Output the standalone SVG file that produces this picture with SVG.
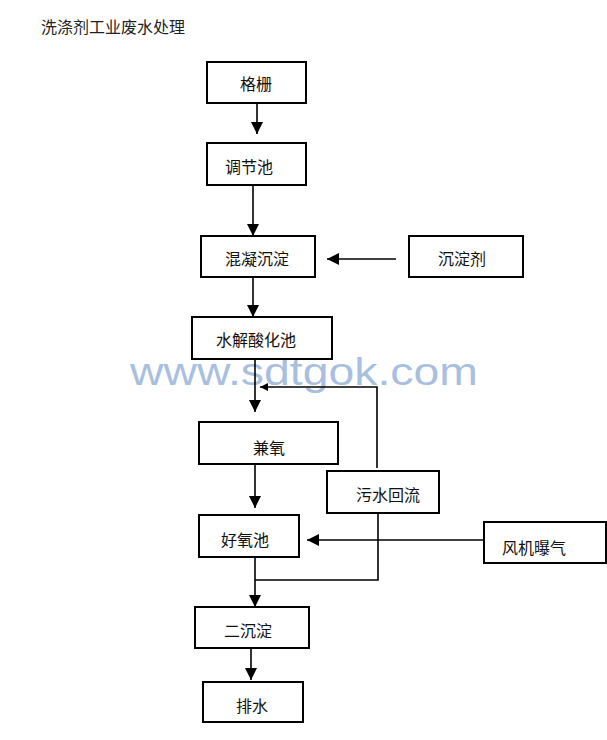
<svg xmlns="http://www.w3.org/2000/svg" width="607" height="740" viewBox="0 0 607 740">
<style>
.box{fill:#fff;stroke:#000;stroke-width:2}
.lbl{font-family:"Noto Sans CJK SC","Noto Sans",sans-serif;font-size:16px;fill:#111;text-anchor:middle;dominant-baseline:central}
.ln{fill:none;stroke:#000;stroke-width:1.6}
</style>
<defs>
<marker id="ah" viewBox="0 0 10 10" refX="10" refY="5" markerWidth="12" markerHeight="12" markerUnits="userSpaceOnUse" orient="auto">
<path d="M0,0 L10,5 L0,10 Z" fill="#000"/>
</marker>
<marker id="ahs" viewBox="0 0 10 10" refX="10" refY="5" markerWidth="8" markerHeight="8" markerUnits="userSpaceOnUse" orient="auto">
<path d="M0,0 L10,5 L0,10 Z" fill="#000"/>
</marker>
</defs>
<rect width="607" height="740" fill="#fff"/>
<text x="41" y="33" style="font-family:'Noto Sans CJK SC',sans-serif;font-size:16px;fill:#222">洗涤剂工业废水处理</text>
<text x="130" y="385" textLength="348" lengthAdjust="spacingAndGlyphs" style="font-family:'Liberation Sans',Arial,sans-serif;font-size:38px;fill:#a9bfdf">www.sdtgok.com</text>
<g id="connectors">
<line class="ln" x1="257" y1="103" x2="257" y2="134" marker-end="url(#ah)"/>
<line class="ln" x1="253" y1="185" x2="253" y2="236" marker-end="url(#ah)"/>
<line class="ln" x1="396" y1="259" x2="327" y2="259" marker-end="url(#ah)"/>
<line class="ln" x1="253" y1="277" x2="253" y2="317" marker-end="url(#ah)"/>
<line class="ln" x1="255" y1="359" x2="255" y2="412" marker-end="url(#ah)"/>
<polyline class="ln" points="377,468 377,387 260,387" marker-end="url(#ahs)"/>
<line class="ln" x1="255" y1="464" x2="255" y2="508" marker-end="url(#ah)"/>
<line class="ln" x1="484" y1="540" x2="307" y2="540" marker-end="url(#ah)"/>
<polyline class="ln" points="378,513 378,580 255,580"/>
<line class="ln" x1="255" y1="557" x2="255" y2="607" marker-end="url(#ah)"/>
<line class="ln" x1="251" y1="648" x2="251" y2="680" marker-end="url(#ah)"/>
</g>
<g id="n1"><rect class="box" x="207" y="62" width="99" height="41"/><text class="lbl" x="256" y="83">格栅</text></g>
<g id="n2"><rect class="box" x="207" y="143" width="99" height="42"/><text class="lbl" x="249" y="166">调节池</text></g>
<g id="n3"><rect class="box" x="201" y="236" width="114" height="41"/><text class="lbl" x="257" y="258">混凝沉淀</text></g>
<g id="n4"><rect class="box" x="409" y="236" width="114" height="41"/><text class="lbl" x="462" y="258">沉淀剂</text></g>
<g id="n5"><rect class="box" x="192" y="317" width="140" height="42"/><text class="lbl" x="256" y="339">水解酸化池</text></g>
<g id="n6"><rect class="box" x="199" y="422" width="139" height="42"/><text class="lbl" x="269" y="447">兼氧</text></g>
<g id="n7"><rect class="box" x="327" y="471" width="112" height="42"/><text class="lbl" x="388" y="494">污水回流</text></g>
<g id="n8"><rect class="box" x="199" y="515" width="100" height="42"/><text class="lbl" x="245" y="539">好氧池</text></g>
<g id="n9"><rect class="box" x="484" y="522" width="122" height="41"/><text class="lbl" x="534" y="547">风机曝气</text></g>
<g id="n10"><rect class="box" x="195" y="607" width="114" height="41"/><text class="lbl" x="248" y="630">二沉淀</text></g>
<g id="n11"><rect class="box" x="203" y="682" width="100" height="40"/><text class="lbl" x="252" y="705">排水</text></g>
</svg>
